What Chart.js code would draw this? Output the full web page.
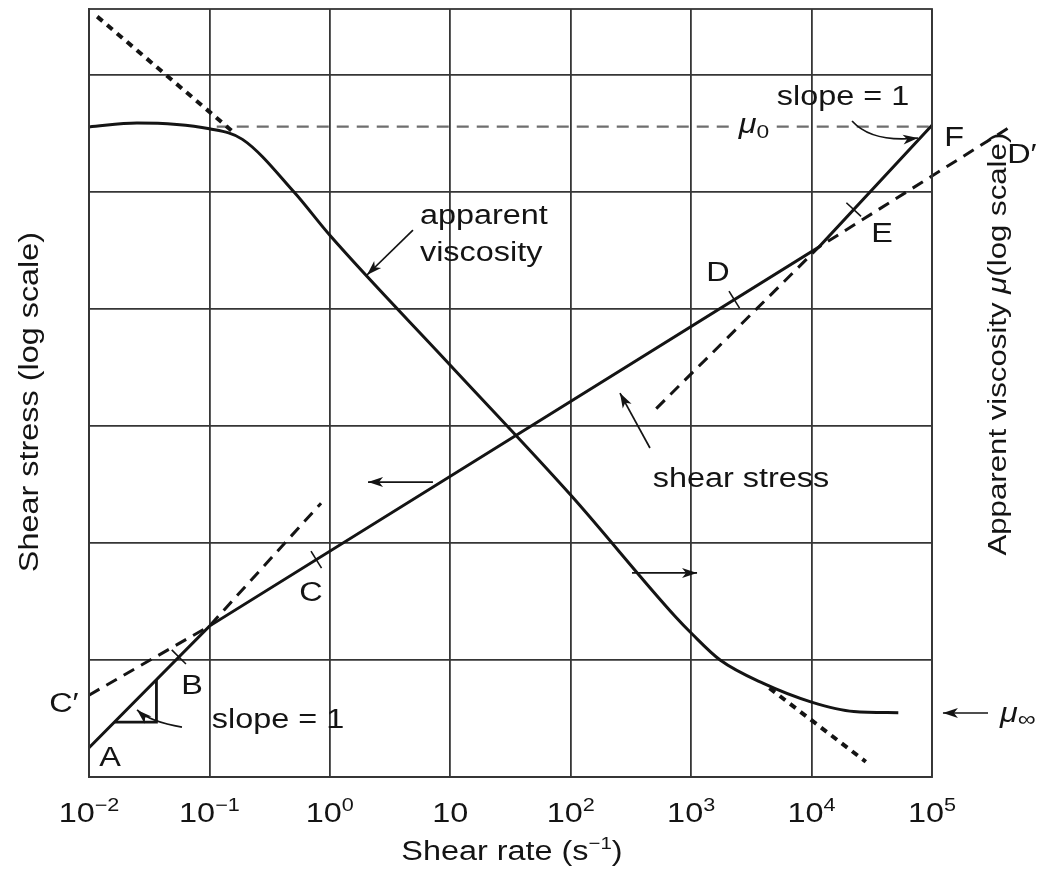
<!DOCTYPE html>
<html>
<head>
<meta charset="utf-8">
<script src="https://cdn.jsdelivr.net/npm/chart.js@4.4.1/dist/chart.umd.min.js"></script>
<style>
  html, body { margin: 0; padding: 0; background: #fff; }
</style>
</head>
<body>
<canvas id="chart1" width="1049" height="883"></canvas>
<script>
// values (shear rate in s^-1, y in arbitrary log units)
const xTicks = [0.01, 0.1, 1, 10, 100, 1000, 10000, 100000];
const xTickExp = [-2, -1, 0, 1, 2, 3, 4, 5];
const yTicks = [1, 10, 100, 1000, 10000, 100000, 1000000];

// shear stress curve A-B-C-D-E-F
const rateStress = [0.01, 0.1, 11500, 100000, 174000];
const stress = [1.78, 19.5, 33900, 372000, 661000];

// dashed extensions C' and D'
const rateLowDash = [0.01, 0.1, 0.845];
const lowDash = [5.01, 19.5, 219];
const rateHighDash = [513, 11500, 468000];
const highDash = [1410, 33900, 372000];

// apparent viscosity curve
const rateVisc = [0.01, 0.025, 0.1, 0.188, 0.504, 1, 10, 100, 741, 1000, 1740, 3980, 10000, 22400, 52500];
const visc = [360000, 389000, 347000, 282000, 100000, 42700, 3310, 257, 23.4, 17.0, 10.0, 6.31, 4.37, 3.63, 3.55];

// power law asymptote (dotted) and mu0 level
const rateViscTop = [0.0117, 0.155];
const viscTop = [3160000, 331000];
const rateViscBot = [4470, 28200];
const viscBot = [5.75, 1.35];
const rateMu0 = [0.115, 100000];
const mu0 = [363000, 363000];

const toXY = (xs, ys) => xs.map((x, i) => ({ x: x, y: ys[i] }));
const ink = '#141414';
const gridInk = '#363636';
const SX = 1.2;

function font(p) {
  return (p.i ? 'italic ' : '') + (p.s || 27) + 'px "Liberation Sans", Arial, sans-serif';
}

function rich(ctx, parts, x, y, align, rot) {
  ctx.save();
  ctx.translate(x, y);
  if (rot) ctx.rotate(rot);
  ctx.scale(SX, 1);
  ctx.textAlign = 'left';
  ctx.textBaseline = 'alphabetic';
  ctx.fillStyle = ink;
  let w = 0;
  parts.forEach(p => { ctx.font = font(p); p.w = ctx.measureText(p.t).width; w += p.w; });
  let cx = align === 'left' ? 0 : -w / 2;
  parts.forEach(p => { ctx.font = font(p); ctx.fillText(p.t, cx, p.dy || 0); cx += p.w; });
  ctx.restore();
  return w * SX;
}

function head(ctx, x1, y1, x2, y2) {
  const a = Math.atan2(y2 - y1, x2 - x1);
  ctx.beginPath();
  ctx.moveTo(x2, y2);
  ctx.lineTo(x2 - 15 * Math.cos(a) + 5 * Math.sin(a), y2 - 15 * Math.sin(a) - 5 * Math.cos(a));
  ctx.lineTo(x2 - 11 * Math.cos(a), y2 - 11 * Math.sin(a));
  ctx.lineTo(x2 - 15 * Math.cos(a) - 5 * Math.sin(a), y2 - 15 * Math.sin(a) + 5 * Math.cos(a));
  ctx.closePath();
  ctx.fill();
}

const notes = {
  id: 'notes',
  afterDraw(chart) {
    const { ctx, chartArea: a, scales } = chart;
    const X = lx => scales.x.getPixelForValue(Math.pow(10, lx));
    const Y = ly => scales.y.getPixelForValue(Math.pow(10, ly));

    // point on the stress line at a given log rate
    const onStress = lx => {
      const lxs = rateStress.map(Math.log10), lys = stress.map(Math.log10);
      let i = 0;
      while (i < lxs.length - 2 && lx > lxs[i + 1]) i++;
      const t = (lx - lxs[i]) / (lxs[i + 1] - lxs[i]);
      return [X(lx), Y(lys[i] + t * (lys[i + 1] - lys[i]))];
    };

    ctx.save();
    ctx.strokeStyle = gridInk;
    ctx.lineWidth = 1.8;
    ctx.strokeRect(a.left, a.top, a.right - a.left, a.bottom - a.top);

    // short marks across the stress line
    ctx.strokeStyle = ink;
    ctx.lineWidth = 1.6;
    [-1.254, -0.113, 3.358, 4.35].forEach(lx => {
      const p0 = onStress(lx - 0.03), p1 = onStress(lx + 0.03), p = onStress(lx);
      const d = Math.hypot(p1[0] - p0[0], p1[1] - p0[1]);
      const nx = -(p1[1] - p0[1]) / d, ny = (p1[0] - p0[0]) / d;
      ctx.beginPath();
      ctx.moveTo(p[0] - nx * 10, p[1] - ny * 10);
      ctx.lineTo(p[0] + nx * 10, p[1] + ny * 10);
      ctx.stroke();
    });

    // slope triangle at A
    const t1 = onStress(-1.79), t2 = onStress(-1.44);
    ctx.lineWidth = 2.8;
    ctx.beginPath();
    ctx.moveTo(t1[0], t1[1]);
    ctx.lineTo(t2[0], t1[1]);
    ctx.lineTo(t2[0], t2[1]);
    ctx.stroke();

    // arrows
    ctx.fillStyle = ink;
    ctx.lineWidth = 1.7;
    const straight = (ax, ay, bx, by) => {
      const x1 = X(ax), y1 = Y(ay), x2 = X(bx), y2 = Y(by);
      ctx.beginPath(); ctx.moveTo(x1, y1); ctx.lineTo(x2, y2); ctx.stroke();
      head(ctx, x1, y1, x2, y2);
    };
    const curved = (ax, ay, cx, cy, bx, by) => {
      const x1 = X(ax), y1 = Y(ay), qx = X(cx), qy = Y(cy), x2 = X(bx), y2 = Y(by);
      ctx.beginPath(); ctx.moveTo(x1, y1); ctx.quadraticCurveTo(qx, qy, x2, y2); ctx.stroke();
      head(ctx, qx, qy, x2, y2);
    };
    straight(0.690, 4.675, 0.308, 4.291);
    straight(0.856, 2.521, 0.317, 2.521);
    straight(2.509, 1.744, 3.049, 1.744);
    straight(2.658, 2.812, 2.409, 3.282);
    straight(5.465, 0.547, 5.091, 0.547);
    curved(4.336, 5.607, 4.502, 5.419, 4.884, 5.462);
    curved(-1.228, 0.427, -1.493, 0.470, -1.601, 0.573);

    // mu0 label sitting on the dashed level
    ctx.fillStyle = '#fff';
    ctx.fillRect(X(3.522) - 21, Y(5.504) - 20, 42, 26);
    rich(ctx, [{ t: 'μ', i: true }, { t: '0', s: 19, dy: 5 }], X(3.522), Y(5.504));

    // letters and words
    rich(ctx, [{ t: 'A' }], X(-1.826), Y(0.094));
    rich(ctx, [{ t: 'B' }], X(-1.145), Y(0.709));
    rich(ctx, [{ t: 'C′' }], X(-2.208), Y(0.556));
    rich(ctx, [{ t: 'C' }], X(-0.157), Y(1.504));
    rich(ctx, [{ t: 'D' }], X(3.223), Y(4.239));
    rich(ctx, [{ t: 'E' }], X(4.585), Y(4.573));
    rich(ctx, [{ t: 'F' }], X(5.183), Y(5.393));
    rich(ctx, [{ t: 'D′' }], X(5.747), Y(5.248));
    rich(ctx, [{ t: 'slope = 1' }], X(4.261), Y(5.744));
    rich(ctx, [{ t: 'slope = 1' }], X(-0.431), Y(0.419));
    rich(ctx, [{ t: 'apparent' }], X(0.748), Y(4.726), 'left');
    rich(ctx, [{ t: 'viscosity' }], X(0.748), Y(4.410), 'left');
    rich(ctx, [{ t: 'shear stress' }], X(3.414), Y(2.479));
    rich(ctx, [{ t: 'μ', i: true }, { t: '∞', s: 21, dy: 4 }], X(5.565), Y(0.470), 'left');

    // tick labels and axis titles
    xTickExp.forEach((e, i) => {
      const parts = [{ t: '10', s: 27 }];
      if (e !== 1) parts.push({ t: e < 0 ? '−' + (-e) : String(e), s: 18, dy: -11 });
      rich(ctx, parts, scales.x.getPixelForValue(xTicks[i]), Y(-0.385));
    });
    rich(ctx, [{ t: 'Shear rate (s' }, { t: '−1', s: 17, dy: -11 }, { t: ')' }], X(1.512), Y(-0.709));
    rich(ctx, [{ t: 'Shear stress (log scale)' }], X(-2.42), Y(3.205), 'center', -Math.PI / 2);
    rich(ctx, [{ t: 'Apparent viscosity ', s: 26 }, { t: 'μ', i: true, s: 26 }, { t: '(log scale)', s: 26 }], X(5.615), Y(3.70), 'center', -Math.PI / 2);
    ctx.restore();
  }
};

const decades = list => scale => { scale.ticks = list.map(v => ({ value: v })); };

new Chart(document.getElementById('chart1'), {
  type: 'line',
  data: {
    datasets: [
      { data: toXY(rateStress, stress), borderColor: ink, borderWidth: 3, clip: false },
      { data: toXY(rateVisc, visc), yAxisID: 'yMu', borderColor: ink, borderWidth: 3, cubicInterpolationMode: 'monotone' },
      { data: toXY(rateLowDash, lowDash), borderColor: ink, borderWidth: 3, borderDash: [12, 8] },
      { data: toXY(rateHighDash, highDash), borderColor: ink, borderWidth: 3, borderDash: [12, 8], clip: false },
      { data: toXY(rateViscTop, viscTop), yAxisID: 'yMu', borderColor: ink, borderWidth: 4, borderDash: [7, 6] },
      { data: toXY(rateViscBot, viscBot), yAxisID: 'yMu', borderColor: ink, borderWidth: 4, borderDash: [7, 6] },
      { data: toXY(rateMu0, mu0), yAxisID: 'yMu', borderColor: '#6e6e6e', borderWidth: 2.2, borderDash: [12, 8] }
    ]
  },
  options: {
    responsive: false,
    animation: false,
    events: [],
    elements: { point: { radius: 0 } },
    layout: { padding: { left: 89, right: 117, top: 9, bottom: 106 } },
    plugins: { legend: { display: false }, tooltip: { enabled: false } },
    scales: {
      x: {
        type: 'logarithmic', min: 0.01, max: 100000,
        afterBuildTicks: decades(xTicks),
        ticks: { display: false },
        grid: { color: gridInk, lineWidth: 1.8, drawTicks: false },
        border: { color: gridInk, width: 1.8 }
      },
      y: {
        type: 'logarithmic', min: 1, max: 3670000,
        afterBuildTicks: decades(yTicks),
        ticks: { display: false },
        grid: { color: gridInk, lineWidth: 1.8, drawTicks: false },
        border: { color: gridInk, width: 1.8 }
      },
      yMu: { type: 'logarithmic', position: 'right', min: 1, max: 3670000, display: false }
    }
  },
  plugins: [notes]
});
</script>
</body>
</html>
